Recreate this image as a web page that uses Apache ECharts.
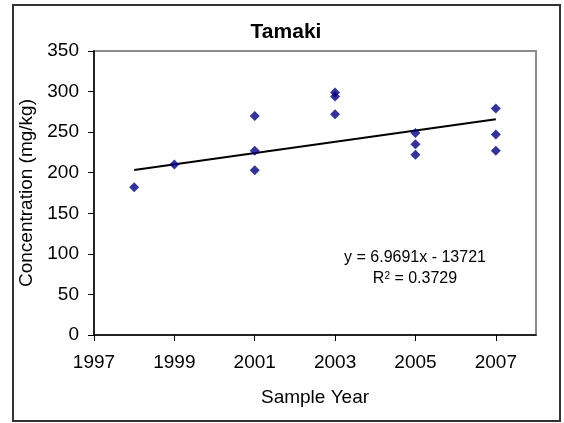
<!DOCTYPE html>
<html>
<head>
<meta charset="utf-8">
<script src="https://cdn.jsdelivr.net/npm/echarts@6/dist/echarts.min.js"></script>
<style>
	html, body { margin: 0; padding: 0; background: #fff; }
	#chart { width: 564px; height: 423px; }
</style>
</head>
<body>
<div id="chart"></div>
<script>
	// sample data
	var years = [1998, 1999, 2001, 2001, 2001, 2003, 2003, 2003, 2005, 2005, 2005, 2007, 2007, 2007];
	var conc = [182, 210, 270, 227, 203, 299, 294, 272, 249, 235, 222, 279, 247, 227];
	var xTicks = [1997, 1999, 2001, 2003, 2005, 2007];
	// trend line as printed on the chart
	var slope = 6.9691;
	var intercept = -13721;
	var rSquared = '0.3729';

	var font = 'Liberation Sans, Arial, sans-serif';
	var chart = echarts.init(document.getElementById('chart'));

	var points = years.map(function(y, i) { return [y, conc[i]]; });
	var x0 = Math.min.apply(null, years), x1 = Math.max.apply(null, years);
	var trend = [[x0, slope * x0 + intercept], [x1, slope * x1 + intercept]];

	option = {
		animation: false,
		title: {
			text: 'Tamaki',
			left: 281,
			top: 17,
			textAlign: 'center',
			textStyle: { fontFamily: font, fontSize: 21, fontWeight: 'bold', color: '#000' }
		},
		grid: {
			left: 94, right: 28, top: 51, bottom: 88,
			show: true,
			borderColor: '#8c8c8c',
			borderWidth: 2,
			backgroundColor: '#fff'
		},
		graphic: [
			{
				type: 'rect',
				shape: { x: 13, y: 5, width: 547, height: 416 },
				style: { fill: 'none', stroke: '#333', lineWidth: 2 },
				z: -1
			},
			{
				type: 'text',
				x: 415, y: 258,
				style: {
					text: 'y = ' + slope + 'x - ' + Math.abs(intercept),
					font: '16px ' + font,
					fill: '#000',
					align: 'center',
					verticalAlign: 'middle'
				}
			},
			{
				type: 'text',
				x: 415, y: 279,
				style: {
					text: '{n|R}{s|2}{n| = ' + rSquared + '}',
					align: 'center',
					verticalAlign: 'middle',
					rich: {
						n: { fontSize: 16, fontFamily: font, color: '#000' },
						s: { fontSize: 10, fontFamily: font, color: '#000', verticalAlign: 'top', padding: [0, 0, 6, 0] }
					}
				}
			}
		],
		xAxis: {
			type: 'value',
			min: 1997,
			max: 2008,
			name: 'Sample Year',
			nameLocation: 'middle',
			nameGap: 53,
			nameTextStyle: { fontFamily: font, fontSize: 19, color: '#000' },
			axisLine: { lineStyle: { color: '#000', width: 1.5 } },
			axisTick: { show: true, length: 6, lineStyle: { color: '#000' }, customValues: xTicks },
			axisLabel: {
				fontFamily: font, fontSize: 19, color: '#000', margin: 18,
				customValues: xTicks,
				formatter: function(v) { return String(v); }
			},
			splitLine: { show: false }
		},
		yAxis: {
			type: 'value',
			min: 0,
			max: 350,
			interval: 50,
			name: 'Concentration (mg/kg)',
			nameLocation: 'middle',
			nameGap: 51,
			nameTextStyle: { fontFamily: font, fontSize: 19, color: '#000' },
			axisLine: { show: true, lineStyle: { color: '#000', width: 1.5 } },
			axisTick: { show: true, length: 6, lineStyle: { color: '#000' } },
			axisLabel: { fontFamily: font, fontSize: 19, color: '#000', margin: 15 },
			splitLine: { show: false }
		},
		series: [
			{
				name: 'Tamaki',
				type: 'scatter',
				symbol: 'diamond',
				symbolSize: 10,
				itemStyle: { color: '#000080' },
				data: points,
				z: 3
			},
			{
				name: 'Trend',
				type: 'line',
				symbol: 'none',
				lineStyle: { color: '#000', width: 2 },
				data: trend,
				z: 2
			}
		]
	};

	chart.setOption(option);
</script>
</body>
</html>
